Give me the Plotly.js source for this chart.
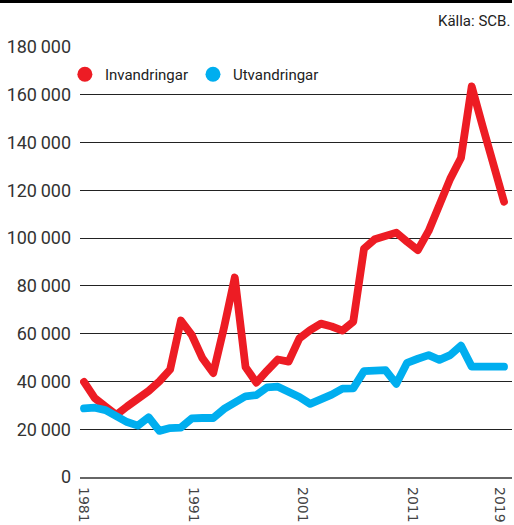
<!DOCTYPE html>
<html>
<head>
<meta charset="utf-8">
<script src="https://cdn.plot.ly/plotly-3.0.1.min.js"></script>
<style>
  html, body { margin: 0; padding: 0; background: #fff; }
  #chart { width: 514px; height: 525px; }
  .scatterlayer .js-line { stroke-linejoin: round; stroke-linecap: round; }
</style>
</head>
<body>
<div id="chart"></div>
<script>
// Years of the plotted points
const years = [1980,1981,1982,1983,1984,1985,1986,1987,1988,1989,
               1990,1991,1992,1993,1994,1995,1996,1997,1998,1999,
               2000,2001,2002,2003,2004,2005,2006,2007,2008,2009,
               2010,2011,2012,2013,2014,2015,2016,2017,2018,2019];

// Invandringar (immigration)
const invandringar = [39800,33000,29500,26000,29500,32500,36000,40000,45000,65500,
                      59500,49700,43500,62500,83500,46000,39500,44500,49200,48300,
                      58000,61500,64200,63000,61300,65000,95600,99500,101000,102300,
                      98500,95000,103000,115000,124800,133500,163500,147000,131000,115200];

// Utvandringar (emigration)
const utvandringar = [28700,29000,28000,25500,23000,21500,25000,19300,20500,20700,
                      24500,24700,24700,28500,31000,33800,34300,37500,37800,35800,
                      33500,30600,32200,34500,37000,37100,44300,44500,44700,39000,
                      47800,49500,51000,49000,51000,55000,46200,46200,46200,46200];

const seriesNames = ['Invandringar', 'Utvandringar'];
const seriesColors = ['#ED1C24', '#00AEEF'];

// Axis labels
const yTickVals = [0,20000,40000,60000,80000,100000,120000,140000,160000,180000];
const yTickText = ['0','20\u2009000','40\u2009000','60\u2009000','80\u2009000',
                   '100\u2009000','120\u2009000','140\u2009000','160\u2009000','180\u2009000'];
const xTickVals = [1981,1991,2001,2011,2019];
const xTickText = ['1981','1991','2001','2011','2019'];

const sourceText = 'Källa: SCB.';

const lineTraces = [invandringar, utvandringar].map((vals, i) => ({
  type: 'scatter', mode: 'lines', x: years, y: vals,
  name: seriesNames[i], showlegend: false, hoverinfo: 'x+y',
  line: { color: seriesColors[i], width: 7.8 }
}));
const legendTraces = seriesNames.map((n, i) => ({
  type: 'scatter', mode: 'markers', x: [null], y: [null],
  name: n, showlegend: true,
  marker: { color: seriesColors[i], size: 15, symbol: 'circle' }
}));
const labelTrace = {
  type: 'scatter', mode: 'markers', x: xTickVals, y: xTickVals.map(() => null),
  xaxis: 'x2', yaxis: 'y', showlegend: false, hoverinfo: 'skip',
  marker: { opacity: 0 }
};

const layout = {
  width: 514, height: 525,
  margin: { l: 80, r: 2, t: 47, b: 48, pad: 0 },
  paper_bgcolor: '#ffffff', plot_bgcolor: '#ffffff',
  font: { family: 'Roboto, sans-serif', color: '#222' },
  showlegend: true,
  legend: {
    orientation: 'h', x: -0.035, xanchor: 'left', y: 0.936, yanchor: 'middle',
    font: { family: 'Roboto, sans-serif', size: 15, color: '#222' },
    bgcolor: 'rgba(0,0,0,0)', borderwidth: 0, itemclick: false, itemdoubleclick: false
  },
  xaxis: {
    range: [1979.63, 2019.74], showgrid: false, zeroline: false,
    showticklabels: false, ticks: '', showline: true, linecolor: '#666', linewidth: 2,
    fixedrange: true
  },
  xaxis2: {
    overlaying: 'x', anchor: 'y', side: 'bottom',
    range: [1980.635, 2020.096], tickmode: 'array', tickvals: xTickVals, ticktext: xTickText,
    tickangle: 90, ticks: '', ticklabelstandoff: 9, showgrid: false, zeroline: false, showline: false,
    tickfont: { family: 'DejaVu Sans', size: 14, color: '#444' }, fixedrange: true
  },
  yaxis: {
    range: [0, 180000], tickmode: 'array', tickvals: yTickVals, ticktext: yTickText,
    showgrid: true, gridcolor: '#222', gridwidth: 1, zeroline: false, showline: false,
    ticks: '', ticklabelstandoff: 8,
    tickfont: { family: 'Roboto, sans-serif', size: 18, color: '#333' }, fixedrange: true
  },
  shapes: [{
    type: 'rect', xref: 'paper', yref: 'paper',
    x0: -80/432, x1: 1, y0: (477-3)/430, y1: 477/430,
    fillcolor: '#000', line: { width: 0 }
  }],
  annotations: [{
    xref: 'paper', yref: 'paper', x: 1, y: (477-21)/430,
    xanchor: 'right', yanchor: 'middle', showarrow: false,
    text: sourceText, font: { family: 'Roboto, sans-serif', size: 15, color: '#222' }
  }]
};

Plotly.newPlot('chart', [...lineTraces, ...legendTraces, labelTrace], layout,
  { displayModeBar: false, staticPlot: false });
</script>
</body>
</html>
